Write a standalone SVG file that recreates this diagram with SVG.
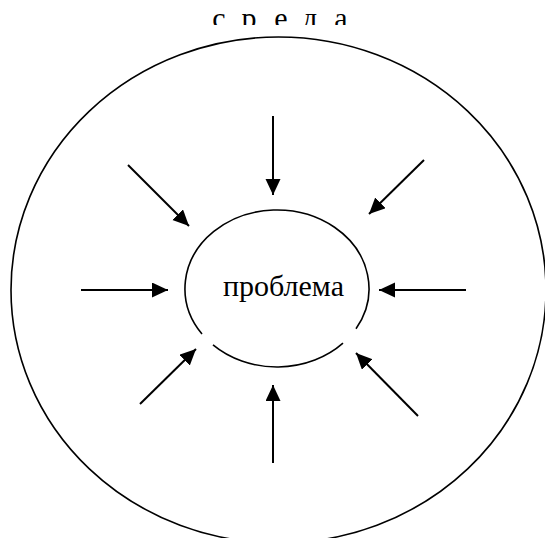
<svg xmlns="http://www.w3.org/2000/svg" width="545" height="538" viewBox="0 0 545 538">
<style>
.shape{fill:none;stroke:#000;stroke-width:1.6}
.conn{stroke:#000;stroke-width:2;fill:none}
.lbl{font-family:"Liberation Serif","Times New Roman",serif;fill:#000}
</style>
<defs>
<marker id="arr" markerUnits="userSpaceOnUse" markerWidth="17" markerHeight="16" refX="16" refY="7.5" orient="auto">
<path d="M0,0 L16,7.5 L0,15 z" fill="#000"/>
</marker>
<clipPath id="clipTop"><rect x="0" y="0" width="545" height="25"/></clipPath>
</defs>
<rect width="545" height="538" fill="#fff"/>
<g id="sreda">
<ellipse class="shape" cx="278.5" cy="290" rx="267.5" ry="253"/>
<g clip-path="url(#clipTop)">
<text class="lbl" font-size="30" y="28" text-anchor="middle"><tspan x="219">с</tspan><tspan x="249">р</tspan><tspan x="281">е</tspan><tspan x="310">д</tspan><tspan x="341">а</tspan></text>
</g>
</g>
<g id="problema">
<path class="shape" d="M213,344.9 A92 78.5 0 0 0 343,343.2"/>
<path class="shape" d="M356,328.7 A92 78.5 0 1 0 202,334"/>
<text class="lbl" font-size="30" x="283.5" y="296" text-anchor="middle">проблема</text>
</g>
<g id="connectors">
<line class="conn" x1="273" y1="116" x2="273" y2="195" marker-end="url(#arr)"/>
<line class="conn" x1="128" y1="165" x2="189" y2="226" marker-end="url(#arr)"/>
<line class="conn" x1="424" y1="160" x2="369" y2="214" marker-end="url(#arr)"/>
<line class="conn" x1="81" y1="290" x2="168" y2="290" marker-end="url(#arr)"/>
<line class="conn" x1="466" y1="290" x2="379" y2="290" marker-end="url(#arr)"/>
<line class="conn" x1="140" y1="404" x2="196" y2="349" marker-end="url(#arr)"/>
<line class="conn" x1="418" y1="416" x2="356" y2="353" marker-end="url(#arr)"/>
<line class="conn" x1="273" y1="463" x2="273" y2="385" marker-end="url(#arr)"/>
</g>
</svg>
